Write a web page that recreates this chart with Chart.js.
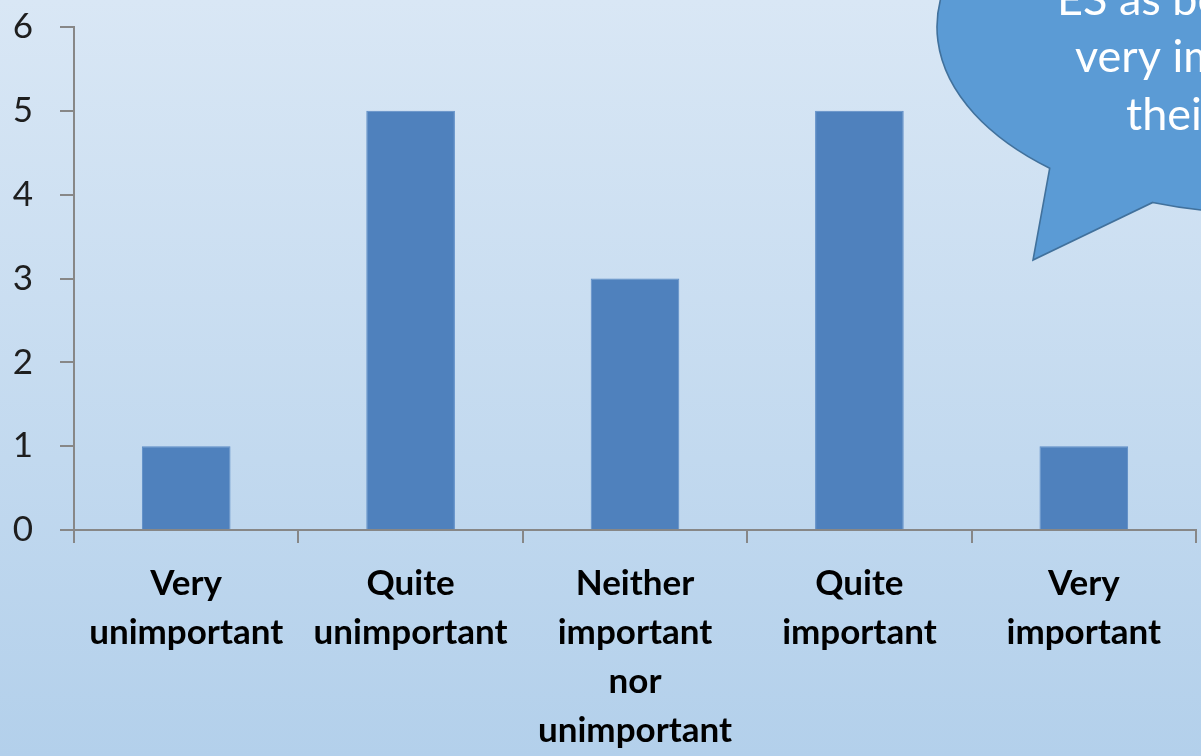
<!DOCTYPE html>
<html>
<head>
<meta charset="utf-8">
<title>Importance ratings</title>
<script src="https://cdn.jsdelivr.net/npm/chart.js@4/dist/chart.umd.min.js"></script>
<style>
  html, body { margin: 0; padding: 0; background: #c6dcf0; }
  #wrap { width: 1201px; height: 756px; }
  canvas { display: block; }
</style>
</head>
<body>
<div id="wrap"><canvas id="chart" width="1201" height="756"></canvas></div>
<script>
// Response categories (multi-line axis labels)
const categories = [
  ['Very', 'unimportant'],
  ['Quite', 'unimportant'],
  ['Neither', 'important', 'nor', 'unimportant'],
  ['Quite', 'important'],
  ['Very', 'important']
];
// Number of respondents per category
const counts = [1, 5, 3, 5, 1];
// Value axis ticks
const yTicks = [0, 1, 2, 3, 4, 5, 6];
// Speech-bubble text (runs past the right edge of the canvas)
const calloutLines = ['ES as being', 'very important', 'their'];

const AXIS = '#878787';

// Soft vertical gradient behind the whole chart
const backgroundPlugin = {
  id: 'gradientBackground',
  beforeDraw(chart) {
    const { ctx, width, height } = chart;
    const g = ctx.createLinearGradient(0, 0, 0, height);
    g.addColorStop(0, '#d9e7f5');
    g.addColorStop(1, '#b3d0eb');
    ctx.save();
    ctx.fillStyle = g;
    ctx.fillRect(0, 0, width, height);
    ctx.restore();
  }
};

// Speech-bubble callout in the top-right corner
const calloutPlugin = {
  id: 'callout',
  afterDraw(chart) {
    const { ctx } = chart;
    const cx = 1260, cy = 27, rx = 323, ry = 186;
    // parametric angles where the tail leaves and rejoins the ellipse
    const a1 = Math.atan2((168 - cy) / ry, (1050 - cx) / rx);
    const a2 = Math.atan2((202 - cy) / ry, (1153 - cx) / rx);
    ctx.save();
    ctx.beginPath();
    ctx.ellipse(cx, cy, rx, ry, 0, a1, a2 + 2 * Math.PI, false);
    ctx.lineTo(1033, 260);
    ctx.closePath();
    ctx.fillStyle = '#5b9bd5';
    ctx.fill();
    ctx.lineWidth = 1.6;
    ctx.strokeStyle = '#41719c';
    ctx.stroke();

    ctx.fillStyle = '#ffffff';
    ctx.font = '45px Lato, "Open Sans", sans-serif';
    ctx.textAlign = 'left';
    ctx.textBaseline = 'alphabetic';
    const xs = [1057, 1075, 1126];
    const ys = [15, 72, 130];
    calloutLines.forEach((t, i) => ctx.fillText(t, xs[i], ys[i]));
    ctx.restore();
  }
};

new Chart(document.getElementById('chart'), {
  type: 'bar',
  data: {
    labels: categories,
    datasets: [{
      data: counts,
      backgroundColor: '#4f81bd',
      borderColor: '#5d8cc6',
      borderWidth: 1,
      categoryPercentage: 1,
      barPercentage: 0.395
    }]
  },
  options: {
    responsive: false,
    animation: false,
    devicePixelRatio: 1,
    layout: { padding: { top: 27, right: 5, left: 0, bottom: 0 } },
    plugins: {
      legend: { display: false },
      tooltip: { enabled: false }
    },
    scales: {
      x: {
        grid: {
          display: true,
          offset: true,
          drawOnChartArea: false,
          drawTicks: true,
          tickLength: 13,
          color: AXIS,
          lineWidth: 2
        },
        border: { display: true, color: AXIS, width: 2 },
        ticks: {
          color: '#000000',
          padding: 16,
          maxRotation: 0,
          autoSkip: false,
          font: { family: 'Lato, "Open Sans", sans-serif', size: 35, weight: 'bold', lineHeight: 1.4 }
        },
        afterFit(scale) { scale.height = 226; }
      },
      y: {
        min: 0,
        max: 6,
        afterBuildTicks(scale) { scale.ticks = yTicks.map(v => ({ value: v })); },
        grid: {
          display: true,
          drawOnChartArea: false,
          drawTicks: true,
          tickLength: 14,
          color: AXIS,
          lineWidth: 2
        },
        border: { display: true, color: AXIS, width: 2 },
        ticks: {
          color: '#1e1e1e',
          padding: 27,
          font: { family: 'Lato, "Open Sans", sans-serif', size: 35 }
        },
        afterFit(scale) {
          scale.width = 74;
          scale.paddingTop = 0;
          scale.paddingBottom = 0;
        }
      }
    }
  },
  plugins: [backgroundPlugin, calloutPlugin]
});
</script>
</body>
</html>
